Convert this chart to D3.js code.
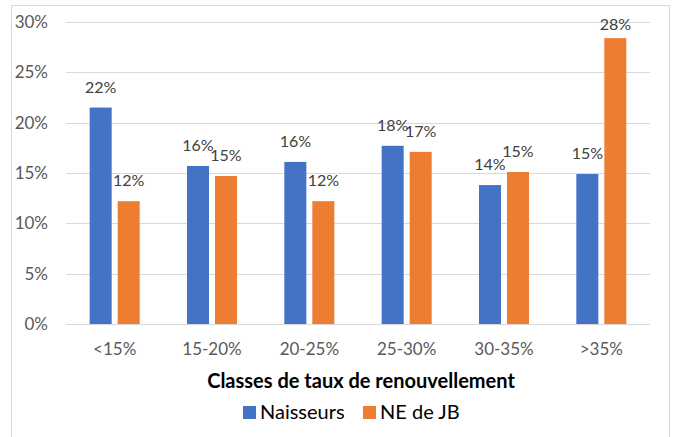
<!DOCTYPE html>
<html>
<head>
<meta charset="utf-8">
<script src="https://cdn.jsdelivr.net/npm/d3@7"></script>
<style>
  body { margin: 0; background: #fff; }
  text { font-family: Lato, "Open Sans", sans-serif; }
</style>
</head>
<body>
<svg id="chart" width="675" height="437"></svg>
<script>
var categories = ["<15%", "15-20%", "20-25%", "25-30%", "30-35%", ">35%"];
var naisseurs = [21.5, 15.7, 16.1, 17.7, 13.8, 14.9];
var neJB = [12.2, 14.7, 12.2, 17.1, 15.1, 28.4];
var naisseursLabels = ["22%", "16%", "16%", "18%", "14%", "15%"];
var neJBLabels = ["12%", "15%", "12%", "17%", "15%", "28%"];
var yTicks = [0, 5, 10, 15, 20, 25, 30];
var seriesNames = ["Naisseurs", "NE de JB"];
var colors = ["#4472c4", "#ed7d31"];

var svg = d3.select("#chart");

// outer frame
svg.append("rect")
    .attr("x", 11.5).attr("y", 5.5)
    .attr("width", 658).attr("height", 440)
    .attr("fill", "none").attr("stroke", "#d9d9d9");

var x = d3.scaleBand().domain(categories).range([66, 650]);
var y = d3.scaleLinear().domain([0, 30]).range([324, 22]);
var barW = 22, gap = 6;

// grid
svg.append("g").selectAll("line")
    .data(yTicks)
    .join("line")
    .attr("x1", 66).attr("x2", 650)
    .attr("y1", function(d) { return Math.round(y(d)) + 0.5; })
    .attr("y2", function(d) { return Math.round(y(d)) + 0.5; })
    .attr("stroke", "#d9d9d9").attr("stroke-width", 1);

svg.append("g").selectAll("text")
    .data(yTicks)
    .join("text")
    .attr("x", 48).attr("y", function(d) { return y(d) + 6; })
    .attr("text-anchor", "end")
    .attr("font-size", 17).attr("fill", "#595959")
    .text(function(d) { return d + "%"; });

var series = [naisseurs, neJB];
var labels = [naisseursLabels, neJBLabels];

series.forEach(function(vals, s) {
  var bx = function(d, i) {
    var c = x(categories[i]) + x.bandwidth() / 2;
    return s === 0 ? c - gap / 2 - barW : c + gap / 2;
  };
  svg.append("g").selectAll("rect")
      .data(vals)
      .join("rect")
      .attr("x", bx)
      .attr("y", function(d) { return y(d); })
      .attr("width", barW)
      .attr("height", function(d) { return y(0) - y(d); })
      .attr("fill", colors[s]);

  // labels kept inside the plot area, like excel does
  svg.append("g").selectAll("text")
      .data(vals)
      .join("text")
      .attr("x", function(d, i) { return bx(d, i) + barW / 2; })
      .attr("y", function(d) { return Math.max(y(d) - 15, 30); })
      .attr("text-anchor", "middle")
      .attr("font-size", 16).attr("fill", "#404040")
      .text(function(d, i) { return labels[s][i]; });
});

// baseline
svg.append("line")
    .attr("x1", 66).attr("x2", 650)
    .attr("y1", Math.round(y(0)) + 0.5).attr("y2", Math.round(y(0)) + 0.5)
    .attr("stroke", "#d9d9d9");

svg.append("g").selectAll("text")
    .data(categories)
    .join("text")
    .attr("x", function(d) { return x(d) + x.bandwidth() / 2; })
    .attr("y", 355)
    .attr("text-anchor", "middle")
    .attr("font-size", 17).attr("fill", "#595959")
    .text(function(d) { return d; });

svg.append("text")
    .attr("x", 361).attr("y", 388)
    .attr("text-anchor", "middle")
    .attr("font-size", 20).attr("font-weight", "bold").attr("fill", "#000")
    .text("Classes de taux de renouvellement");

// legend
var legendX = [243, 363];
var legend = svg.append("g").selectAll("g")
    .data(seriesNames)
    .join("g")
    .attr("transform", function(d, i) { return "translate(" + legendX[i] + ",406)"; });
legend.append("rect")
    .attr("width", 13).attr("height", 13)
    .attr("fill", function(d, i) { return colors[i]; });
legend.append("text")
    .attr("x", 17).attr("y", 13)
    .attr("font-size", 20).attr("fill", "#000")
    .text(function(d) { return d; });
</script>
</body>
</html>
